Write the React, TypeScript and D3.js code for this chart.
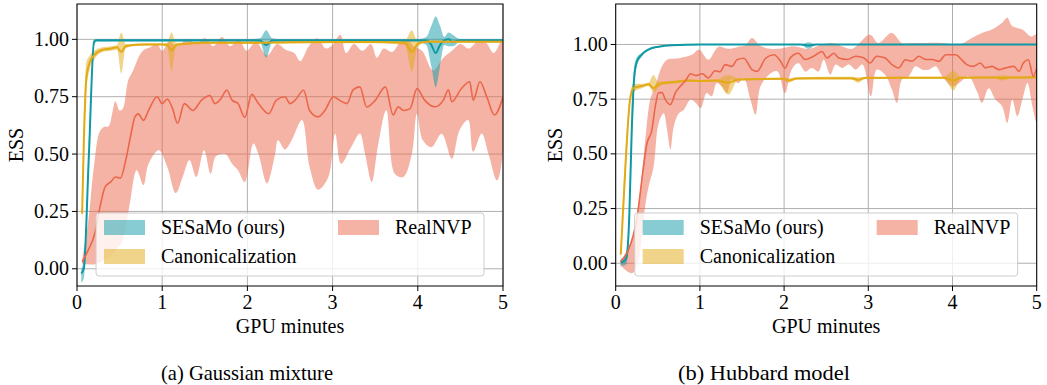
import React from "react";
import * as d3 from "d3";

// axes: x is GPU minutes, y is ESS
const xTicks = [0, 1, 2, 3, 4, 5];
const yTicks = [0, 0.25, 0.5, 0.75, 1.0];
const seriesNames = ["SESaMo (ours)", "Canonicalization", "RealNVP"];
const seriesColors = ["#0f99a5", "#e2aa15", "#eb674b"];
const captions = ["(a) Gaussian mixture", "(b) Hubbard model"];

// (a) Gaussian mixture -- rows are [t, mean, lo, hi]
const sesamoGauss = [
  [0.05, -0.02, -0.06, 0.0], [0.08, 0.0, -0.04, 0.04], [0.14, 0.5, 0.47, 0.53],
  [0.2, 0.99, 0.97, 1.0], [0.23, 0.996, 0.99, 1.0], [0.5, 0.996, 0.99, 1.0],
  [1.0, 0.996, 0.99, 1.0], [2.0, 0.996, 0.99, 1.0], [2.15, 0.995, 0.985, 1.005],
  [2.22, 0.975, 0.92, 1.04], [2.29, 0.995, 0.985, 1.005], [2.4, 0.996, 0.99, 1.0],
  [3.0, 0.996, 0.99, 1.0], [4.0, 0.996, 0.99, 1.0], [4.1, 0.995, 0.975, 1.01],
  [4.16, 0.975, 0.88, 1.06], [4.21, 0.94, 0.79, 1.1], [4.26, 0.975, 0.88, 1.06],
  [4.31, 0.995, 0.975, 1.01], [4.36, 1.0, 0.97, 1.03], [4.41, 0.99, 0.97, 1.02],
  [4.5, 0.996, 0.99, 1.0], [5.0, 0.996, 0.99, 1.0],
];
const canonGauss = [
  [0.06, 0.24, 0.18, 0.3], [0.08, 0.55, 0.45, 0.65], [0.11, 0.83, 0.78, 0.9],
  [0.15, 0.9, 0.87, 0.93], [0.2, 0.93, 0.91, 0.95], [0.3, 0.955, 0.945, 0.965],
  [0.4, 0.96, 0.95, 0.97], [0.47, 0.965, 0.955, 0.975], [0.52, 0.945, 0.85, 1.03],
  [0.57, 0.97, 0.96, 0.98], [0.65, 0.975, 0.97, 0.98], [0.8, 0.978, 0.973, 0.983],
  [1.0, 0.978, 0.973, 0.983], [1.06, 0.975, 0.965, 0.985], [1.11, 0.952, 0.86, 1.03],
  [1.16, 0.975, 0.965, 0.985], [1.25, 0.98, 0.975, 0.985], [1.5, 0.985, 0.98, 0.99],
  [2.0, 0.985, 0.98, 0.99], [2.5, 0.987, 0.982, 0.992], [3.0, 0.988, 0.983, 0.993],
  [3.5, 0.988, 0.983, 0.993], [3.85, 0.985, 0.975, 0.995], [3.93, 0.945, 0.86, 1.04],
  [4.0, 0.98, 0.97, 0.99], [4.1, 0.99, 0.985, 0.995], [4.5, 0.99, 0.985, 0.995],
  [5.0, 0.99, 0.985, 0.995],
];
const nvpMeanGauss = [
  [0.06, 0.03], [0.13, 0.08], [0.21, 0.155], [0.27, 0.27], [0.33, 0.357], [0.4, 0.38],
  [0.45, 0.4], [0.51, 0.395], [0.57, 0.47], [0.63, 0.58], [0.68, 0.662], [0.72, 0.675],
  [0.78, 0.647], [0.84, 0.69], [0.94, 0.75], [1.0, 0.72], [1.06, 0.74], [1.12, 0.7],
  [1.18, 0.634], [1.26, 0.72], [1.36, 0.69], [1.46, 0.734], [1.56, 0.755], [1.62, 0.72],
  [1.68, 0.737], [1.76, 0.778], [1.82, 0.735], [1.89, 0.72], [1.97, 0.66], [2.05, 0.76],
  [2.13, 0.72], [2.25, 0.676], [2.34, 0.735], [2.44, 0.75], [2.5, 0.72], [2.56, 0.735],
  [2.66, 0.778], [2.73, 0.69], [2.83, 0.662], [2.91, 0.69], [3.01, 0.75], [3.08, 0.735],
  [3.17, 0.72], [3.24, 0.78], [3.32, 0.793], [3.4, 0.705], [3.5, 0.734], [3.62, 0.793],
  [3.71, 0.67], [3.77, 0.706], [3.83, 0.69], [3.91, 0.698], [3.99, 0.785], [4.08, 0.735],
  [4.2, 0.706], [4.3, 0.735], [4.36, 0.78], [4.4, 0.728], [4.51, 0.785], [4.61, 0.815],
  [4.65, 0.735], [4.73, 0.815], [4.81, 0.749], [4.9, 0.67], [5.0, 0.75],
];
const nvpHiGauss = [
  [0.06, 0.04], [0.13, 0.2], [0.2, 0.45], [0.27, 0.6], [0.33, 0.62], [0.37, 0.62],
  [0.42, 0.69], [0.45, 0.73], [0.5, 0.69], [0.54, 0.7], [0.6, 0.82], [0.66, 0.865],
  [0.72, 0.92], [0.78, 0.952], [0.86, 0.965], [0.94, 0.98], [1.0, 0.95], [1.08, 0.99],
  [1.18, 0.97], [1.29, 1.0], [1.4, 0.98], [1.5, 1.005], [1.6, 0.97], [1.7, 1.01],
  [1.8, 0.97], [1.9, 1.0], [1.99, 0.95], [2.1, 0.99], [2.23, 0.93], [2.35, 0.98],
  [2.45, 0.955], [2.55, 0.94], [2.62, 0.905], [2.72, 0.97], [2.82, 1.005], [2.92, 0.96],
  [3.0, 0.975], [3.09, 1.02], [3.16, 0.94], [3.25, 0.98], [3.35, 0.95], [3.45, 0.98],
  [3.52, 0.92], [3.6, 0.96], [3.7, 0.945], [3.8, 0.99], [3.89, 0.995], [3.95, 0.97],
  [4.05, 0.95], [4.18, 0.865], [4.3, 0.92], [4.4, 0.95], [4.5, 0.98], [4.6, 0.96],
  [4.7, 0.99], [4.8, 0.985], [4.89, 0.94], [5.0, 1.0],
];
const nvpLoGauss = [
  [0.06, 0.02], [0.13, 0.02], [0.21, 0.02], [0.37, 0.05], [0.45, 0.08], [0.53, 0.12],
  [0.62, 0.285], [0.7, 0.43], [0.78, 0.365], [0.84, 0.458], [0.96, 0.517], [1.06, 0.444],
  [1.16, 0.33], [1.24, 0.4], [1.32, 0.474], [1.4, 0.4], [1.49, 0.517], [1.57, 0.414],
  [1.63, 0.49], [1.74, 0.5], [1.82, 0.458], [1.89, 0.43], [1.97, 0.378], [2.07, 0.546],
  [2.13, 0.5], [2.23, 0.372], [2.32, 0.49], [2.36, 0.56], [2.44, 0.52], [2.52, 0.56],
  [2.64, 0.648], [2.73, 0.444], [2.83, 0.345], [2.95, 0.4], [3.03, 0.589], [3.1, 0.458],
  [3.22, 0.532], [3.32, 0.59], [3.38, 0.503], [3.46, 0.378], [3.53, 0.53], [3.63, 0.691],
  [3.73, 0.414], [3.83, 0.4], [3.93, 0.5], [3.99, 0.676], [4.06, 0.56], [4.16, 0.53],
  [4.28, 0.589], [4.4, 0.48], [4.49, 0.604], [4.59, 0.648], [4.65, 0.51], [4.75, 0.59],
  [4.83, 0.5], [4.93, 0.385], [5.0, 0.517],
];

// (b) Hubbard model
const sesamoHubbard = [
  [0.06, 0.005, -0.01, 0.02], [0.1, 0.01, -0.01, 0.03], [0.13, 0.03, 0.0, 0.06],
  [0.16, 0.2, 0.14, 0.26], [0.19, 0.6, 0.52, 0.68], [0.22, 0.85, 0.8, 0.9],
  [0.25, 0.92, 0.9, 0.94], [0.31, 0.954, 0.945, 0.962], [0.39, 0.977, 0.972, 0.982],
  [0.51, 0.99, 0.987, 0.993], [0.67, 0.997, 0.995, 0.999], [1.0, 1.0, 0.998, 1.002],
  [2.2, 1.0, 0.998, 1.002], [2.29, 0.995, 0.98, 1.01], [2.38, 1.0, 0.998, 1.002],
  [5.0, 1.0, 0.998, 1.002],
];
const canonHubbard = [
  [0.06, 0.04, 0.0, 0.08], [0.115, 0.44, 0.38, 0.5], [0.17, 0.748, 0.72, 0.77],
  [0.21, 0.8, 0.78, 0.82], [0.31, 0.81, 0.8, 0.82], [0.39, 0.818, 0.81, 0.825],
  [0.45, 0.8, 0.78, 0.86], [0.5, 0.815, 0.8, 0.83], [0.55, 0.824, 0.815, 0.83],
  [0.67, 0.827, 0.82, 0.833], [0.87, 0.835, 0.83, 0.84], [1.0, 0.833, 0.828, 0.838],
  [1.2, 0.835, 0.83, 0.84], [1.34, 0.825, 0.77, 0.86], [1.45, 0.84, 0.835, 0.845],
  [2.0, 0.843, 0.838, 0.848], [2.05, 0.835, 0.825, 0.845], [2.15, 0.845, 0.84, 0.85],
  [2.8, 0.846, 0.84, 0.852], [2.88, 0.838, 0.825, 0.85], [2.96, 0.847, 0.842, 0.852],
  [3.9, 0.848, 0.843, 0.853], [4.01, 0.835, 0.79, 0.88], [4.1, 0.848, 0.843, 0.853],
  [4.5, 0.849, 0.844, 0.854], [4.59, 0.846, 0.835, 0.86], [4.7, 0.849, 0.844, 0.854],
  [5.0, 0.85, 0.845, 0.855],
];
const nvpMeanHubbard = [
  [0.055, 0.007], [0.15, 0.06], [0.25, 0.2], [0.33, 0.44], [0.37, 0.545], [0.43, 0.61],
  [0.47, 0.717], [0.51, 0.78], [0.55, 0.78], [0.59, 0.748], [0.65, 0.725], [0.71, 0.78],
  [0.77, 0.81], [0.83, 0.835], [0.89, 0.866], [0.95, 0.858], [1.03, 0.866], [1.1, 0.847],
  [1.18, 0.88], [1.24, 0.875], [1.3, 0.908], [1.38, 0.9], [1.44, 0.93], [1.52, 0.937],
  [1.62, 0.885], [1.68, 0.877], [1.78, 0.937], [1.88, 0.953], [1.96, 0.922], [2.01, 0.892],
  [2.07, 0.937], [2.17, 0.96], [2.25, 0.931], [2.35, 0.946], [2.45, 0.968], [2.51, 0.938],
  [2.59, 0.96], [2.65, 0.938], [2.75, 0.931], [2.85, 0.946], [2.95, 0.938], [3.02, 0.915],
  [3.1, 0.946], [3.2, 0.938], [3.28, 0.908], [3.36, 0.893], [3.44, 0.93], [3.52, 0.923],
  [3.6, 0.946], [3.68, 0.931], [3.76, 0.931], [3.84, 0.923], [3.92, 0.953], [4.04, 0.953],
  [4.09, 0.938], [4.17, 0.908], [4.25, 0.9], [4.33, 0.915], [4.39, 0.893], [4.47, 0.9],
  [4.55, 0.885], [4.63, 0.893], [4.73, 0.9], [4.79, 0.877], [4.84, 0.915], [4.9, 0.93],
  [4.96, 0.855], [5.0, 0.893],
];
const nvpHiHubbard = [
  [0.055, 0.01], [0.19, 0.1], [0.28, 0.3], [0.35, 0.56], [0.41, 0.748], [0.47, 0.81],
  [0.55, 0.9], [0.61, 0.93], [0.75, 0.937], [0.91, 0.954], [0.99, 0.977], [1.1, 0.93],
  [1.22, 0.99], [1.34, 0.98], [1.46, 0.99], [1.54, 0.997], [1.62, 1.03], [1.7, 1.0],
  [1.78, 0.984], [1.94, 0.98], [2.1, 0.992], [2.29, 0.98], [2.45, 1.0], [2.57, 1.007],
  [2.7, 0.99], [2.81, 0.98], [3.02, 1.045], [3.12, 1.007], [3.28, 1.053], [3.4, 1.007],
  [3.52, 1.007], [3.68, 1.007], [3.88, 1.007], [4.08, 1.0], [4.23, 1.03], [4.35, 1.053],
  [4.47, 1.068], [4.59, 1.099], [4.65, 1.122], [4.71, 1.084], [4.83, 1.068], [4.93, 1.037],
  [5.0, 1.045],
];
const nvpLoHubbard = [
  [0.055, -0.01], [0.15, -0.04], [0.2, -0.045], [0.27, 0.015], [0.35, 0.26], [0.39, 0.35],
  [0.45, 0.44], [0.51, 0.64], [0.57, 0.686], [0.61, 0.61], [0.65, 0.519], [0.69, 0.626],
  [0.75, 0.686], [0.81, 0.702], [0.89, 0.748], [0.95, 0.733], [1.01, 0.71], [1.08, 0.778],
  [1.14, 0.763], [1.2, 0.824], [1.26, 0.809], [1.32, 0.778], [1.38, 0.84], [1.46, 0.824],
  [1.52, 0.847], [1.6, 0.748], [1.66, 0.679], [1.72, 0.809], [1.82, 0.862], [1.92, 0.877],
  [2.01, 0.778], [2.09, 0.885], [2.17, 0.915], [2.25, 0.877], [2.33, 0.893], [2.41, 0.877],
  [2.47, 0.93], [2.55, 0.862], [2.61, 0.908], [2.69, 0.893], [2.77, 0.908], [2.85, 0.885],
  [2.93, 0.908], [3.03, 0.763], [3.1, 0.885], [3.2, 0.862], [3.28, 0.794], [3.34, 0.733],
  [3.4, 0.84], [3.48, 0.854], [3.56, 0.9], [3.64, 0.885], [3.72, 0.885], [3.8, 0.9],
  [3.88, 0.854], [4.0, 0.809], [4.08, 0.824], [4.19, 0.854], [4.29, 0.786], [4.35, 0.733],
  [4.43, 0.8], [4.51, 0.748], [4.59, 0.717], [4.65, 0.641], [4.71, 0.748], [4.77, 0.672],
  [4.83, 0.748], [4.89, 0.824], [4.95, 0.717], [5.0, 0.641],
];

// unquoted family name, the quoted form fell back to sans here
const textStyle = { fontFamily: "Liberation Serif", fontSize: 20 };

function Panel({ id, x0, x1, y0, y1, yDomain, ses, canon, nvpMean, nvpLo, nvpHi, caption, captionX }) {
  const x = d3.scaleLinear().domain([0, 5]).range([x0, x1]);
  const y = d3.scaleLinear().domain(yDomain).range([y1, y0]);

  // band for the [t, mean, lo, hi] rows
  const band = d3
    .area<number[]>()
    .x((d) => x(d[0]))
    .y0((d) => y(d[2]))
    .y1((d) => y(d[3]))
    .curve(d3.curveMonotoneX);
  const line = d3
    .line<number[]>()
    .x((d) => x(d[0]))
    .y((d) => y(d[1]))
    .curve(d3.curveMonotoneX);
  // realnvp band has its own t grid on each side, so trace it as one polygon
  const outline = d3
    .line<number[]>()
    .x((d) => x(d[0]))
    .y((d) => y(d[1]))
    .curve(d3.curveCatmullRom);
  const nvpBand = outline([...nvpHi, ...nvpLo.slice().reverse()]) + "Z";

  const legX0 = x0 + 19;
  const legX1 = x1 - 19;
  const legY0 = y1 - 73;
  const legY1 = y1 - 10;
  const rows = [y1 - 58.5, y1 - 29.5];
  const legendItems = [
    { name: seriesNames[0], color: seriesColors[0], px: legX0 + 8, ty: rows[0] },
    { name: seriesNames[1], color: seriesColors[1], px: legX0 + 8, ty: rows[1] },
    { name: seriesNames[2], color: seriesColors[2], px: legX0 + 242, ty: rows[0] },
  ];

  return (
    <g>
      <defs>
        <clipPath id={id}>
          <rect x={x0} y={y0} width={x1 - x0} height={y1 - y0} />
        </clipPath>
      </defs>
      {/* grid */}
      {xTicks.map((t) => (
        <line key={"gx" + t} x1={x(t)} x2={x(t)} y1={y0} y2={y1} stroke="#b0b0b0" strokeWidth={1} />
      ))}
      {yTicks.map((t) => (
        <line key={"gy" + t} x1={x0} x2={x1} y1={y(t)} y2={y(t)} stroke="#b0b0b0" strokeWidth={1} />
      ))}

      <g clipPath={`url(#${id})`}>
        <path d={nvpBand} fill={seriesColors[2]} fillOpacity={0.5} />
        <path d={band(ses)} fill={seriesColors[0]} fillOpacity={0.5} />
        <path d={band(canon)} fill={seriesColors[1]} fillOpacity={0.5} />
        <path d={line(ses)} fill="none" stroke={seriesColors[0]} strokeWidth={2} />
        <path d={line(canon)} fill="none" stroke={seriesColors[1]} strokeWidth={2} />
        <path d={line(nvpMean)} fill="none" stroke={seriesColors[2]} strokeWidth={1.6} />
      </g>

      <rect x={x0} y={y0} width={x1 - x0} height={y1 - y0} fill="none" stroke="#000" strokeWidth={1} />

      {/* ticks */}
      {xTicks.map((t) => (
        <g key={"tx" + t}>
          <line x1={x(t)} x2={x(t)} y1={y1} y2={y1 + 5} stroke="#000" />
          <text x={x(t)} y={y1 + 23} textAnchor="middle" style={textStyle}>
            {t}
          </text>
        </g>
      ))}
      {yTicks.map((t) => (
        <g key={"ty" + t}>
          <line x1={x0 - 5} x2={x0} y1={y(t)} y2={y(t)} stroke="#000" />
          <text x={x0 - 8} y={y(t) + 6.5} textAnchor="end" style={textStyle}>
            {t.toFixed(2)}
          </text>
        </g>
      ))}
      <text x={(x0 + x1) / 2} y={y1 + 47} textAnchor="middle" style={textStyle}>
        GPU minutes
      </text>
      <text
        transform={`translate(${x0 - 54},${(y0 + y1) / 2}) rotate(-90)`}
        textAnchor="middle"
        style={textStyle}
      >
        ESS
      </text>

      {/* legend */}
      <rect
        x={legX0}
        y={legY0}
        width={legX1 - legX0}
        height={legY1 - legY0}
        rx={3}
        fill="#fff"
        fillOpacity={0.8}
        stroke="#cccccc"
        strokeWidth={1}
      />
      {legendItems.map((it) => (
        <g key={it.name}>
          <rect x={it.px} y={it.ty - 7.5} width={41} height={15} fill={it.color} fillOpacity={0.5} />
          <text x={it.px + 57} y={it.ty + 6.5} style={textStyle}>
            {it.name}
          </text>
        </g>
      ))}

      <text
        x={captionX}
        y={380}
        textAnchor="middle"
        textLength={172}
        lengthAdjust="spacingAndGlyphs"
        style={{ ...textStyle, fontSize: 21 }}
      >
        {caption}
      </text>
    </g>
  );
}

export default function App() {
  return (
    <svg
      width={1047}
      height={385}
      style={{ position: "absolute", left: 0, top: 0, background: "#fff" }}
    >
      <Panel
        id="clipA"
        x0={77}
        x1={503}
        y0={4}
        y1={286}
        yDomain={[-0.075, 1.154]}
        ses={sesamoGauss}
        canon={canonGauss}
        nvpMean={nvpMeanGauss}
        nvpLo={nvpLoGauss}
        nvpHi={nvpHiGauss}
        caption={captions[0]}
        captionX={247}
      />
      <Panel
        id="clipB"
        x0={615.7}
        x1={1036.7}
        y0={4}
        y1={286}
        yDomain={[-0.104, 1.185]}
        ses={sesamoHubbard}
        canon={canonHubbard}
        nvpMean={nvpMeanHubbard}
        nvpLo={nvpLoHubbard}
        nvpHi={nvpHiHubbard}
        caption={captions[1]}
        captionX={764}
      />
    </svg>
  );
}
